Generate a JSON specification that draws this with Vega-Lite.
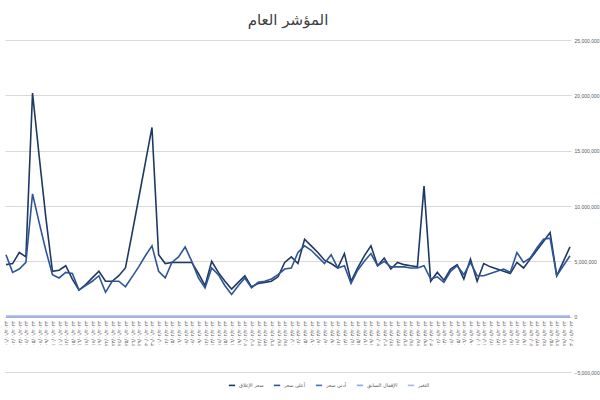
{
"$schema":"https://vega.github.io/schema/vega-lite/v6.json",
"width":566,"height":332,
"autosize":{"type":"none"},
"padding":{"left":5,"top":40,"right":29,"bottom":28},
"background":"white",
"config":{"view":{"stroke":null}},
"title":{"text":"المؤشر العام","font":"DejaVu Sans","fontSize":15,"fontWeight":"normal","color":"#404040","offset":10,"anchor":"middle"},
"data":{"values":[
{"t":"٠١/٠١/٢٠٢٣","a":4700000,"b":5600000,"c":0,"d":0,"e":0},
{"t":"٠٢/٠١/٢٠٢٣","a":4800000,"b":4000000,"c":0,"d":0,"e":0},
{"t":"٠٣/٠١/٢٠٢٣","a":5800000,"b":4300000,"c":0,"d":0,"e":0},
{"t":"٠٤/٠١/٢٠٢٣","a":5400000,"b":4900000,"c":0,"d":0,"e":0},
{"t":"٠٥/٠١/٢٠٢٣","a":20200000,"b":11100000,"c":0,"d":0,"e":0},
{"t":"٠٨/٠١/٢٠٢٣","a":14500000,"b":8500000,"c":0,"d":0,"e":0},
{"t":"٠٩/٠١/٢٠٢٣","a":9000000,"b":6000000,"c":0,"d":0,"e":0},
{"t":"١٠/٠١/٢٠٢٣","a":4100000,"b":3800000,"c":0,"d":0,"e":0},
{"t":"١١/٠١/٢٠٢٣","a":4200000,"b":3500000,"c":0,"d":0,"e":0},
{"t":"١٢/٠١/٢٠٢٣","a":4600000,"b":4000000,"c":0,"d":0,"e":0},
{"t":"١٥/٠١/٢٠٢٣","a":3400000,"b":3900000,"c":0,"d":0,"e":0},
{"t":"١٦/٠١/٢٠٢٣","a":2400000,"b":2400000,"c":0,"d":0,"e":0},
{"t":"١٧/٠١/٢٠٢٣","a":2900000,"b":2800000,"c":0,"d":0,"e":0},
{"t":"١٨/٠١/٢٠٢٣","a":3500000,"b":3200000,"c":0,"d":0,"e":0},
{"t":"١٩/٠١/٢٠٢٣","a":4100000,"b":3700000,"c":0,"d":0,"e":0},
{"t":"٢٢/٠١/٢٠٢٣","a":3200000,"b":2200000,"c":0,"d":0,"e":0},
{"t":"٢٣/٠١/٢٠٢٣","a":3200000,"b":3200000,"c":0,"d":0,"e":0},
{"t":"٢٤/٠١/٢٠٢٣","a":3700000,"b":3200000,"c":0,"d":0,"e":0},
{"t":"٢٥/٠١/٢٠٢٣","a":4400000,"b":2700000,"c":0,"d":0,"e":0},
{"t":"٢٦/٠١/٢٠٢٣","a":7500000,"b":3600000,"c":0,"d":0,"e":0},
{"t":"٢٩/٠١/٢٠٢٣","a":10700000,"b":4500000,"c":0,"d":0,"e":0},
{"t":"٣٠/٠١/٢٠٢٣","a":13900000,"b":5500000,"c":0,"d":0,"e":0},
{"t":"٣١/٠١/٢٠٢٣","a":17100000,"b":6400000,"c":0,"d":0,"e":0},
{"t":"٠١/٠٢/٢٠٢٣","a":5600000,"b":4100000,"c":0,"d":0,"e":0},
{"t":"٠٢/٠٢/٢٠٢٣","a":4800000,"b":3500000,"c":0,"d":0,"e":0},
{"t":"٠٥/٠٢/٢٠٢٣","a":4900000,"b":4900000,"c":0,"d":0,"e":0},
{"t":"٠٦/٠٢/٢٠٢٣","a":4900000,"b":5400000,"c":0,"d":0,"e":0},
{"t":"٠٧/٠٢/٢٠٢٣","a":4900000,"b":6300000,"c":0,"d":0,"e":0},
{"t":"٠٨/٠٢/٢٠٢٣","a":4900000,"b":5000000,"c":0,"d":0,"e":0},
{"t":"٠٩/٠٢/٢٠٢٣","a":3900000,"b":3500000,"c":0,"d":0,"e":0},
{"t":"١٢/٠٢/٢٠٢٣","a":2800000,"b":2600000,"c":0,"d":0,"e":0},
{"t":"١٣/٠٢/٢٠٢٣","a":5000000,"b":4400000,"c":0,"d":0,"e":0},
{"t":"١٤/٠٢/٢٠٢٣","a":4000000,"b":3800000,"c":0,"d":0,"e":0},
{"t":"١٥/٠٢/٢٠٢٣","a":3200000,"b":2800000,"c":0,"d":0,"e":0},
{"t":"١٦/٠٢/٢٠٢٣","a":2500000,"b":2000000,"c":0,"d":0,"e":0},
{"t":"١٩/٠٢/٢٠٢٣","a":3100000,"b":2800000,"c":0,"d":0,"e":0},
{"t":"٢٠/٠٢/٢٠٢٣","a":3700000,"b":3500000,"c":0,"d":0,"e":0},
{"t":"٢١/٠٢/٢٠٢٣","a":2700000,"b":2600000,"c":0,"d":0,"e":0},
{"t":"٢٢/٠٢/٢٠٢٣","a":3000000,"b":3100000,"c":0,"d":0,"e":0},
{"t":"٢٣/٠٢/٢٠٢٣","a":3100000,"b":3200000,"c":0,"d":0,"e":0},
{"t":"٢٦/٠٢/٢٠٢٣","a":3200000,"b":3400000,"c":0,"d":0,"e":0},
{"t":"٢٧/٠٢/٢٠٢٣","a":3600000,"b":3800000,"c":0,"d":0,"e":0},
{"t":"٢٨/٠٢/٢٠٢٣","a":4900000,"b":4300000,"c":0,"d":0,"e":0},
{"t":"٠١/٠٣/٢٠٢٣","a":5400000,"b":4400000,"c":0,"d":0,"e":0},
{"t":"٠٢/٠٣/٢٠٢٣","a":4800000,"b":5800000,"c":0,"d":0,"e":0},
{"t":"٠٥/٠٣/٢٠٢٣","a":7000000,"b":6400000,"c":0,"d":0,"e":0},
{"t":"٠٦/٠٣/٢٠٢٣","a":6400000,"b":6000000,"c":0,"d":0,"e":0},
{"t":"٠٧/٠٣/٢٠٢٣","a":5800000,"b":5400000,"c":0,"d":0,"e":0},
{"t":"٠٨/٠٣/٢٠٢٣","a":5100000,"b":4800000,"c":0,"d":0,"e":0},
{"t":"٠٩/٠٣/٢٠٢٣","a":4800000,"b":5600000,"c":0,"d":0,"e":0},
{"t":"١٢/٠٣/٢٠٢٣","a":4400000,"b":4400000,"c":0,"d":0,"e":0},
{"t":"١٣/٠٣/٢٠٢٣","a":5700000,"b":4600000,"c":0,"d":0,"e":0},
{"t":"١٤/٠٣/٢٠٢٣","a":3200000,"b":3000000,"c":0,"d":0,"e":0},
{"t":"١٥/٠٣/٢٠٢٣","a":4400000,"b":4200000,"c":0,"d":0,"e":0},
{"t":"١٦/٠٣/٢٠٢٣","a":5500000,"b":5000000,"c":0,"d":0,"e":0},
{"t":"١٩/٠٣/٢٠٢٣","a":6400000,"b":5700000,"c":0,"d":0,"e":0},
{"t":"٢٠/٠٣/٢٠٢٣","a":4600000,"b":4600000,"c":0,"d":0,"e":0},
{"t":"٢١/٠٣/٢٠٢٣","a":5300000,"b":5000000,"c":0,"d":0,"e":0},
{"t":"٢٢/٠٣/٢٠٢٣","a":4300000,"b":4500000,"c":0,"d":0,"e":0},
{"t":"٢٣/٠٣/٢٠٢٣","a":4900000,"b":4500000,"c":0,"d":0,"e":0},
{"t":"٢٦/٠٣/٢٠٢٣","a":4700000,"b":4500000,"c":0,"d":0,"e":0},
{"t":"٢٧/٠٣/٢٠٢٣","a":4600000,"b":4400000,"c":0,"d":0,"e":0},
{"t":"٢٨/٠٣/٢٠٢٣","a":4500000,"b":4400000,"c":0,"d":0,"e":0},
{"t":"٢٩/٠٣/٢٠٢٣","a":11800000,"b":4600000,"c":0,"d":0,"e":0},
{"t":"٣٠/٠٣/٢٠٢٣","a":3200000,"b":3400000,"c":0,"d":0,"e":0},
{"t":"٠٢/٠٤/٢٠٢٣","a":4000000,"b":3600000,"c":0,"d":0,"e":0},
{"t":"٠٣/٠٤/٢٠٢٣","a":3300000,"b":3100000,"c":0,"d":0,"e":0},
{"t":"٠٤/٠٤/٢٠٢٣","a":4300000,"b":4100000,"c":0,"d":0,"e":0},
{"t":"٠٥/٠٤/٢٠٢٣","a":4700000,"b":4600000,"c":0,"d":0,"e":0},
{"t":"٠٦/٠٤/٢٠٢٣","a":3400000,"b":3800000,"c":0,"d":0,"e":0},
{"t":"٠٩/٠٤/٢٠٢٣","a":5200000,"b":4900000,"c":0,"d":0,"e":0},
{"t":"١٠/٠٤/٢٠٢٣","a":3200000,"b":3700000,"c":0,"d":0,"e":0},
{"t":"١١/٠٤/٢٠٢٣","a":4800000,"b":3700000,"c":0,"d":0,"e":0},
{"t":"١٢/٠٤/٢٠٢٣","a":4500000,"b":3900000,"c":0,"d":0,"e":0},
{"t":"١٣/٠٤/٢٠٢٣","a":4300000,"b":4100000,"c":0,"d":0,"e":0},
{"t":"١٦/٠٤/٢٠٢٣","a":4100000,"b":4300000,"c":0,"d":0,"e":0},
{"t":"١٧/٠٤/٢٠٢٣","a":3900000,"b":4000000,"c":0,"d":0,"e":0},
{"t":"١٨/٠٤/٢٠٢٣","a":4900000,"b":5800000,"c":0,"d":0,"e":0},
{"t":"١٩/٠٤/٢٠٢٣","a":4400000,"b":4900000,"c":0,"d":0,"e":0},
{"t":"٢٠/٠٤/٢٠٢٣","a":5200000,"b":5300000,"c":0,"d":0,"e":0},
{"t":"٢٣/٠٤/٢٠٢٣","a":6000000,"b":6200000,"c":0,"d":0,"e":0},
{"t":"٢٤/٠٤/٢٠٢٣","a":6800000,"b":7000000,"c":0,"d":0,"e":0},
{"t":"٢٥/٠٤/٢٠٢٣","a":7600000,"b":7100000,"c":0,"d":0,"e":0},
{"t":"٢٦/٠٤/٢٠٢٣","a":3700000,"b":3700000,"c":0,"d":0,"e":0},
{"t":"٢٧/٠٤/٢٠٢٣","a":5000000,"b":4600000,"c":0,"d":0,"e":0},
{"t":"٣٠/٠٤/٢٠٢٣","a":6300000,"b":5500000,"c":0,"d":0,"e":0}
]},
"transform":[{"fold":["a","b","c","d","e"],"as":["s","v"]}],
"mark":{"type":"line","interpolate":"linear"},
"encoding":{
"x":{"field":"t","type":"ordinal","sort":null,"scale":{"type":"point","padding":0.15},
 "axis":{"title":null,"offset":-55.3,"labelAngle":-90,"labelFontSize":5,"labelFont":"DejaVu Sans","labelColor":"#595959","labelPadding":4,"labelOverlap":false,"ticks":false,"domain":true,"domainColor":"#D9D9D9","grid":false}},
"y":{"field":"v","type":"quantitative","scale":{"domain":[-5000000,25000000],"nice":false,"zero":false},
 "axis":{"title":null,"orient":"right","values":[-5000000,0,5000000,10000000,15000000,20000000,25000000],"format":",.0f","labelFontSize":5,"labelFont":"Liberation Sans","labelColor":"#595959","labelPadding":3,"ticks":false,"domain":false,"grid":true,"gridColor":"#D9D9D9","gridWidth":1}},
"color":{"field":"s","type":"nominal","scale":{"domain":["a","b","c","d","e"],"range":["#203864","#2F5597","#4472C4","#8FAADC","#A9B8E2"]},
 "legend":{"title":null,"orient":"none","legendX":223,"legendY":341,"direction":"horizontal","symbolType":"stroke","symbolStrokeWidth":2,"symbolSize":40,"labelFontSize":5,"labelFont":"DejaVu Sans","labelColor":"#595959","columnPadding":6,"labelOffset":3,
 "labelExpr":"datum.label=='a'?'سعر الإغلاق':datum.label=='b'?'أعلى سعر':datum.label=='c'?'أدنى سعر':datum.label=='d'?'الإقفال السابق':'التغير'"}},
"strokeWidth":{"field":"s","type":"nominal","scale":{"domain":["a","b","c","d","e"],"range":[1.6,1.6,2.5,2.5,2.5]},"legend":null}
}
}
